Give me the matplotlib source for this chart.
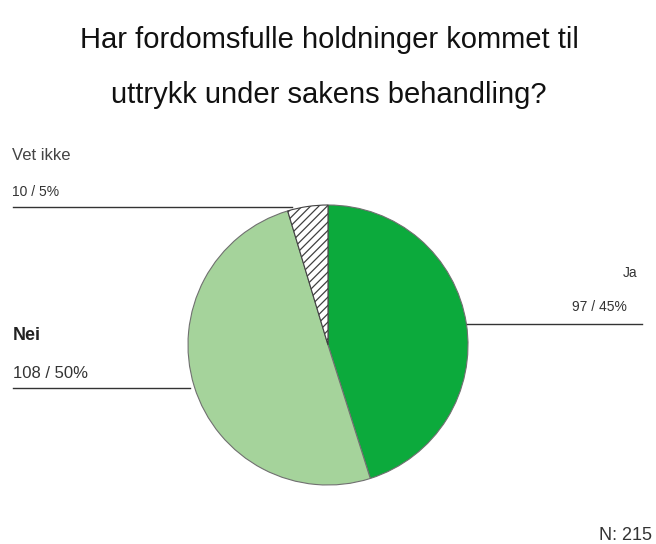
import numpy as np
from matplotlib import pyplot as plt

# Data
labels = ['Ja', 'Nei', 'Vet ikke']
counts = [97, 108, 10]
pcts = [45, 50, 5]
colors = ['#0caa3c', '#a5d39b', 'white']
hatches = ['', '', '////']
total = 215

plt.rcParams['font.family'] = ['Liberation Sans', 'DejaVu Sans']
plt.rcParams['hatch.linewidth'] = 0.9

fig = plt.figure(figsize=(6.56, 5.44), dpi=100)
ax = fig.add_axes([0, 0, 1, 1])

# pie drawn in pixel coordinates; y is inverted so it runs clockwise from 12 o'clock
cx, cy, r = 328, 345, 140
wedges, _ = ax.pie(counts, colors=colors, startangle=270, counterclock=True,
                   center=(cx, cy), radius=r, frame=True,
                   wedgeprops=dict(edgecolor='#707070', linewidth=0.8))
for w, h in zip(wedges, hatches):
    if h:
        w.set_hatch(h)
        w.set_edgecolor('#404040')
ax.set_xlim(0, 656)
ax.set_ylim(544, 0)
ax.axis('off')

# title
ax.text(329, 40, 'Har fordomsfulle holdninger kommet til', ha='center', va='center',
        fontsize=21, color='#111111')
ax.text(329, 95, 'uttrykk under sakens behandling?', ha='center', va='center',
        fontsize=21, color='#111111')

# leader lines
ax.plot([13, 292], [207, 207], color='#333333', lw=1)
ax.plot([467, 642], [324, 324], color='#333333', lw=1)
ax.plot([13, 190], [388, 388], color='#333333', lw=1)

# labels
ax.text(12, 156, labels[2], fontsize=12, color='#444444', va='center')
ax.text(12, 192, f'{counts[2]} / {pcts[2]}%', fontsize=10, color='#333333', va='center')
ax.text(637, 273, labels[0], fontsize=10, color='#333333', va='center', ha='right')
ax.text(627, 307, f'{counts[0]} / {pcts[0]}%', fontsize=10, color='#333333', va='center', ha='right')
ax.text(13, 336, labels[1], fontsize=13, color='#222222', va='center', fontweight='bold')
ax.text(13, 373, f'{counts[1]} / {pcts[1]}%', fontsize=12, color='#333333', va='center')

ax.text(652, 535, f'N: {total}', fontsize=13, color='#333333', va='center', ha='right')

fig.savefig('out.png', dpi=100)
